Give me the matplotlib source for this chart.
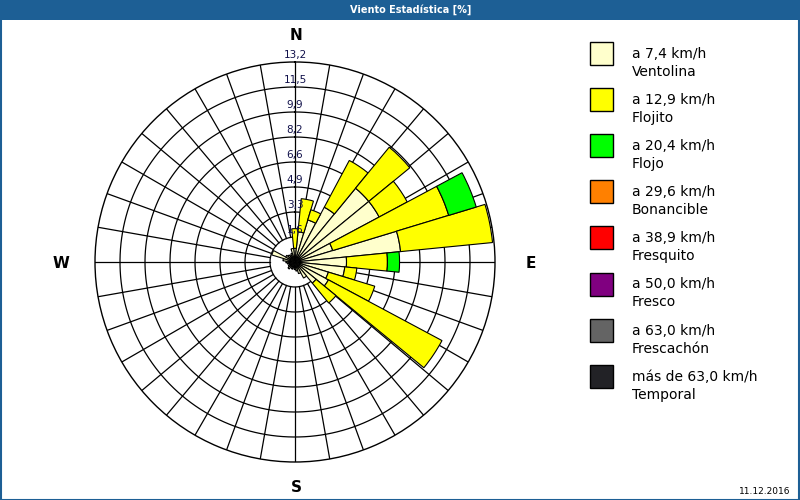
import numpy as np
import matplotlib
matplotlib.use("Agg")
import matplotlib.pyplot as plt
from matplotlib.patches import Rectangle

# 32 directions, 11.25 deg each, clockwise from N
directions = np.arange(32) * 11.25

# percent per speed class (stacked)
ventolina = [0.9, 2.0, 2.9, 4.1, 6.3, 6.3, 2.6, 7.0, 3.4, 3.3, 2.3, 2.5, 1.8, 1.2, 0.8, 0.6,
             0.5, 0.4, 0.5, 0.4, 0.6, 0.5, 0.4, 0.5, 0.6, 0.8, 1.6, 0.7, 0.6, 0.5, 0.6, 0.9]
flojito = [1.3, 2.2, 0.7, 3.5, 3.5, 2.1, 8.0, 6.1, 2.7, 0.8, 3.2, 8.5, 1.7, 0.0, 0.0, 0.0,
           0.0, 0.0, 0.0, 0.0, 0.0, 0.0, 0.0, 0.0, 0.0, 0.0, 0.0, 0.0, 0.0, 0.0, 0.0, 0.0]
flojo = [0.0, 0.0, 0.0, 0.0, 0.0, 0.0, 1.9, 0.0, 0.8, 0.0, 0.0, 0.0, 0.0, 0.0, 0.0, 0.0,
         0.0, 0.0, 0.0, 0.0, 0.0, 0.0, 0.0, 0.0, 0.0, 0.0, 0.0, 0.0, 0.0, 0.0, 0.0, 0.0]

ring_values = [1.65, 3.3, 4.95, 6.6, 8.25, 9.9, 11.55, 13.2]
ring_labels = ["1,6", "3,3", "4,9", "6,6", "8,2", "9,9", "11,5", "13,2"]

legend_speed = ["a 7,4 km/h", "a 12,9 km/h", "a 20,4 km/h", "a 29,6 km/h",
                "a 38,9 km/h", "a 50,0 km/h", "a 63,0 km/h", "más de 63,0 km/h"]
legend_name = ["Ventolina", "Flojito", "Flojo", "Bonancible",
               "Fresquito", "Fresco", "Frescachón", "Temporal"]
legend_colors = ["#ffffcc", "#ffff00", "#00ff00", "#ff8000",
                 "#ff0000", "#800080", "#646464", "#222226"]

blue = "#1d5f95"
W, H = 800, 500

fig = plt.figure(figsize=(8, 5), dpi=100)
fig.patch.set_facecolor("white")

# title bar and frame
fig.patches.append(Rectangle((0, 1 - 20 / H), 1, 20 / H, transform=fig.transFigure,
                             facecolor=blue, edgecolor="none", zorder=0))
fig.patches.append(Rectangle((0.5 / W, 0.5 / H), 1 - 1.5 / W, 1 - 1.5 / H, transform=fig.transFigure,
                             facecolor="none", edgecolor=blue, lw=1.5, zorder=5))
fig.text(411 / W, 1 - 10 / H, "Viento Estadística [%]", color="white", fontsize=7,
         fontweight="bold", ha="center", va="center")

# polar axes: centre (295,262) px, radius 200 px
cx, cy, R = 295, 262, 200
ax = fig.add_axes([(cx - R) / W, 1 - (cy + R) / H, 2 * R / W, 2 * R / H], projection="polar")
ax.set_theta_zero_location("N")
ax.set_theta_direction(-1)
rmax = ring_values[-1]
ax.set_ylim(0, rmax)
ax.grid(False)
ax.set_xticks([])
ax.set_yticks([])
ax.spines["polar"].set_linewidth(1.0)
ax.spines["polar"].set_color("black")

th_circle = np.linspace(0, 2 * np.pi, 400)
for r in ring_values[:-1]:
    ax.plot(th_circle, np.full_like(th_circle, r), color="black", lw=0.9, zorder=1)
for a in range(0, 360, 10):
    t = np.deg2rad(a)
    ax.plot([t, t], [ring_values[0], rmax], color="black", lw=0.9, zorder=1)

theta = np.deg2rad(directions)
width = np.deg2rad(11.25)
bottom = np.zeros(32)
for vals, col in zip([ventolina, flojito, flojo], legend_colors[:3]):
    vals = np.array(vals)
    mask = vals > 0
    ax.bar(theta[mask], vals[mask], width=width, bottom=bottom[mask], color=col,
           edgecolor="black", linewidth=0.8, zorder=2)
    bottom = bottom + vals

for r, lab in zip(ring_values, ring_labels):
    ax.text(0, r + 0.12, lab, fontsize=7.5, color="#10104a", ha="center", va="bottom", zorder=4)

# cardinal labels
card = dict(fontsize=11, fontweight="bold", ha="center", va="center")
fig.text(296 / W, 1 - 36 / H, "N", **card)
fig.text(296 / W, 1 - 488 / H, "S", **card)
fig.text(61 / W, 1 - 264 / H, "W", **card)
fig.text(531 / W, 1 - 264 / H, "E", **card)

# legend
for k in range(len(legend_speed)):
    yc = 54 + k * 46.1
    fig.patches.append(Rectangle((590 / W, 1 - (yc + 11) / H), 23 / W, 23 / H,
                                 transform=fig.transFigure, facecolor=legend_colors[k],
                                 edgecolor="black", lw=1.0, zorder=3))
    fig.text(632 / W, 1 - (yc) / H, legend_speed[k], fontsize=10, ha="left", va="center")
    fig.text(632 / W, 1 - (yc + 18) / H, legend_name[k], fontsize=10, ha="left", va="center")

fig.text(790 / W, 1 - 491 / H, "11.12.2016", fontsize=6.5, ha="right", va="center")

fig.savefig("out.png", dpi=100)
